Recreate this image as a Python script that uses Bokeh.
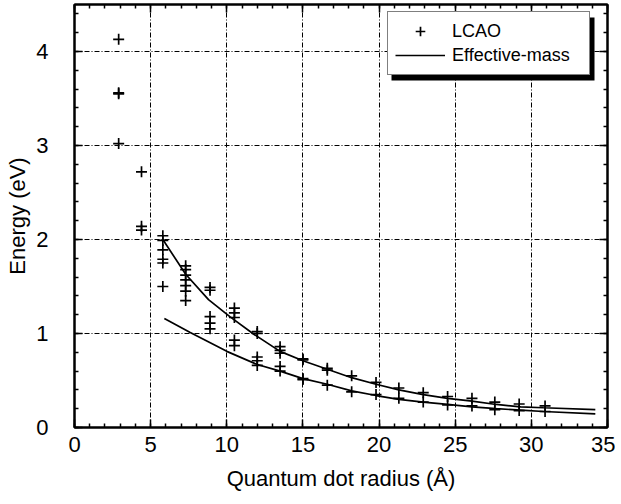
from bokeh.plotting import figure
from bokeh.models import (Range1d, SingleIntervalTicker, LinearAxis, CustomJSTickFormatter,
                          Legend, LegendItem, BoxAnnotation)
from bokeh.embed import file_html
from bokeh.resources import INLINE

# LCAO results: quantum dot radius (Angstrom) and energies (eV)
lcao_r = ([2.9] * 4 + [4.4] * 3 + [5.8] * 6 + [7.3] * 7 + [8.9] * 5 + [10.5] * 5 +
          [12.0] * 5 + [13.5] * 5 + [15.0] * 4 + [16.6] * 3 + [18.2] * 2 + [19.8] * 2 +
          [21.3] * 2 + [22.9] * 2 + [24.5] * 2 + [26.1] * 2 + [27.6] * 2 + [29.2] * 2 + [30.9] * 2)
lcao_e = ([4.13, 3.55, 3.56, 3.02] +
          [2.72, 2.14, 2.10] +
          [2.04, 1.99, 1.89, 1.79, 1.75, 1.50] +
          [1.72, 1.68, 1.62, 1.57, 1.51, 1.45, 1.35] +
          [1.49, 1.46, 1.18, 1.11, 1.05] +
          [1.27, 1.22, 1.17, 0.93, 0.87] +
          [1.02, 1.00, 0.75, 0.71, 0.66] +
          [0.86, 0.82, 0.79, 0.65, 0.60] +
          [0.73, 0.72, 0.52, 0.51] +
          [0.63, 0.61, 0.45] +
          [0.55, 0.38] +
          [0.48, 0.35] +
          [0.42, 0.31] +
          [0.37, 0.27] +
          [0.33, 0.24] +
          [0.31, 0.23] +
          [0.27, 0.19] +
          [0.25, 0.18] +
          [0.23, 0.17])

# Effective-mass curves
em_upper_r = [5.8, 7.3, 8.8, 10.2, 11.8, 13.5, 15.0, 16.6, 18.2, 19.8, 21.3, 22.9, 24.5, 26.1, 27.7, 29.3, 30.8, 34.2]
em_upper_e = [2.00, 1.63, 1.36, 1.18, 0.99, 0.81, 0.71, 0.62, 0.53, 0.46, 0.40, 0.35, 0.31, 0.28, 0.245, 0.22, 0.21, 0.19]
em_lower_r = [5.9, 7.6, 10.0, 12.0, 13.5, 15.0, 16.6, 18.2, 19.8, 21.3, 22.9, 24.5, 26.1, 27.7, 29.3, 30.8, 34.2]
em_lower_e = [1.16, 1.01, 0.81, 0.67, 0.60, 0.52, 0.46, 0.39, 0.34, 0.30, 0.27, 0.245, 0.22, 0.20, 0.185, 0.17, 0.146]

FONT = "Liberation Sans"

p = figure(frame_width=533, frame_height=423, output_backend="svg", toolbar_location=None,
           x_range=Range1d(0, 35), y_range=Range1d(0, 4.5),
           min_border_left=74, min_border_top=4, min_border_right=8, min_border_bottom=70)
p.outline_line_color = "black"
p.outline_line_width = 2
p.background_fill_color = "white"

xt = SingleIntervalTicker(interval=5, num_minor_ticks=5)
yt = SingleIntervalTicker(interval=1, num_minor_ticks=5)


def style_axis(ax):
    ax.axis_line_color = "black"
    ax.axis_line_width = 2
    ax.major_tick_in = 8
    ax.major_tick_out = 0
    ax.minor_tick_in = 4
    ax.minor_tick_out = 0
    ax.major_tick_line_color = "black"
    ax.minor_tick_line_color = "black"
    ax.major_tick_line_width = 1.5
    ax.minor_tick_line_width = 1.5
    ax.major_label_text_font = FONT
    ax.major_label_text_font_size = "22px"
    ax.major_label_text_color = "black"
    ax.axis_label_text_font = FONT
    ax.axis_label_text_font_size = "22px"
    ax.axis_label_text_font_style = "normal"
    ax.axis_label_text_color = "black"


p.xaxis.ticker = xt
p.yaxis.ticker = yt
style_axis(p.xaxis[0])
style_axis(p.yaxis[0])
p.xaxis.axis_label = "Quantum dot radius (Å)"
p.yaxis.axis_label = "Energy (eV)"
p.xaxis.major_label_standoff = 9
p.xaxis.axis_label_standoff = 11
p.yaxis.major_label_standoff = 26
p.yaxis.axis_label_standoff = 3

blank = CustomJSTickFormatter(code="return ''")
top = LinearAxis(ticker=xt, formatter=blank)
right = LinearAxis(ticker=yt, formatter=blank)
for ax in (top, right):
    style_axis(ax)
    ax.major_label_standoff = 0
    ax.major_label_text_font_size = "1px"
p.add_layout(top, "above")
p.add_layout(right, "right")

for g in (p.xgrid[0], p.ygrid[0]):
    g.grid_line_color = "black"
    g.grid_line_width = 1
    g.grid_line_dash = "5 2 1 2"

r_pts = p.scatter(lcao_r, lcao_e, marker="cross", size=11, line_color="black", line_width=1.7)
r_up = p.line(em_upper_r, em_upper_e, line_color="black", line_width=1.7)
r_lo = p.line(em_lower_r, em_lower_e, line_color="black", line_width=1.7)

shadow = BoxAnnotation(left=391, right=594, top=17, bottom=80,
                       left_units="canvas", right_units="canvas", top_units="canvas", bottom_units="canvas",
                       fill_color="black", fill_alpha=1.0, line_color=None)
p.add_layout(shadow)

legend = Legend(items=[LegendItem(label="LCAO", renderers=[r_pts]),
                       LegendItem(label="Effective-mass", renderers=[r_up])],
                location=(313, 352), margin=0, padding=7, spacing=0,
                glyph_width=50, glyph_height=24, label_height=24, label_width=130, label_standoff=7,
                label_text_font=FONT, label_text_font_size="18px", label_text_color="black",
                border_line_color="black", border_line_width=1.5,
                background_fill_color="white", background_fill_alpha=1.0)
p.add_layout(legend, "center")

open("out.html", "w").write(file_html(p, INLINE))
